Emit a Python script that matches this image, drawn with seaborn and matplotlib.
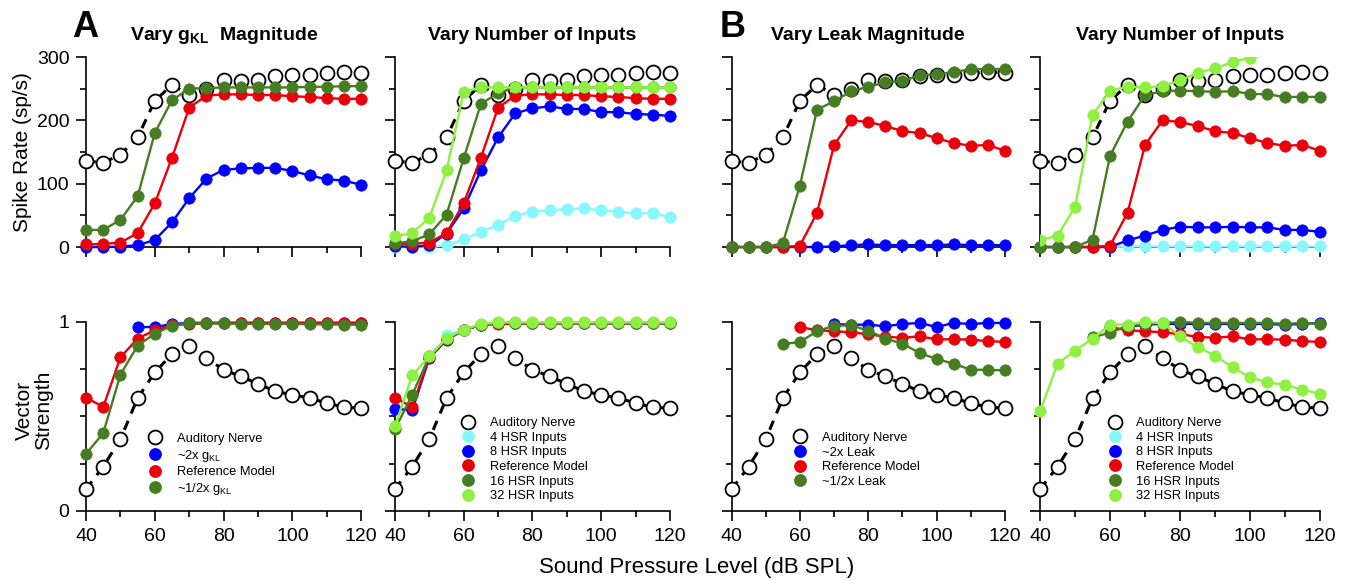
import numpy as np
import matplotlib
matplotlib.use("Agg")
import matplotlib.pyplot as plt
from matplotlib.lines import Line2D
from matplotlib.ticker import MultipleLocator
import seaborn as sns

nan = np.nan

# sound level (dB SPL)
spl = [40, 45, 50, 55, 60, 65, 70, 75, 80, 85, 90, 95, 100, 105, 110, 115, 120]

# auditory nerve (same in every panel)
an_rate = [136, 133, 146, 173, 231, 256, 240, 250, 263, 262, 263, 270, 271, 272, 274, 277, 275]
an_vs = [0.115, 0.235, 0.38, 0.597, 0.733, 0.83, 0.871, 0.809, 0.747, 0.712, 0.673,
         0.633, 0.615, 0.597, 0.571, 0.549, 0.544]

# A: reference model
ref_a_rate = [4, 5, 7, 22, 69, 141, 220, 239, 241, 241, 240, 240, 238, 237, 235, 234, 234]
ref_a_vs = [0.60, 0.55, 0.813, 0.912, 0.956, 0.984, 0.989, 0.992, 0.993, 0.993, 0.993,
            0.993, 0.993, 0.993, 0.993, 0.993, 0.993]

# A: vary gKL
gkl2_rate = [0, 0, 0.5, 3, 11, 39, 77, 108, 122, 124, 125, 125, 120, 113, 107, 105, 98]
gkl2_vs = [nan, nan, nan, 0.973, 0.973, 0.989, 0.995, 0.996, 0.996, 0.996, 0.996,
           0.996, 0.996, 0.996, 0.996, 0.996, 0.996]
gklhalf_rate = [27, 27, 43, 80, 180, 232, 250, 251, 252, 252, 252, 252, 252, 253, 253, 254, 254]
gklhalf_vs = [0.302, 0.412, 0.721, 0.875, 0.938, 0.98, 0.993, 0.993, 0.992, 0.99, 0.99,
              0.99, 0.99, 0.988, 0.987, 0.986, 0.985]

# A: vary number of inputs
hsr4_a_rate = [0, 0, 0, 2.6, 12, 24, 35, 49, 56, 58, 60, 61, 58, 55.5, 53, 54, 47]
hsr4_a_vs = [nan, nan, nan, 0.93, 0.958, 0.985, 0.994, 0.994, 0.994, 0.994, 0.994,
             0.994, 0.994, 0.994, 0.994, 0.994, 0.994]
hsr8_a_rate = [1.5, 0, 2.6, 21, 61, 121, 173, 211, 219, 222, 218, 218, 213, 213, 210, 209, 207]
hsr8_a_vs = [0.541, 0.532, 0.809, 0.906, 0.956, 0.986, 0.993, 0.993, 0.993, 0.993, 0.993,
             0.993, 0.993, 0.993, 0.993, 0.993, 0.993]
hsr16_a_rate = [6, 9, 20, 51, 140, 226, 243, 252, 252, 252, 252, 252, 252, 252, 252, 252, 252]
hsr16_a_vs = [0.433, 0.613, 0.818, 0.912, 0.956, 0.986, 0.995, 0.995, 0.995, 0.995, 0.995,
              0.995, 0.995, 0.995, 0.995, 0.995, 0.995]
hsr32_a_rate = [17, 22, 46, 121, 245, 252, 252, 252, 252, 252, 252, 252, 252, 252, 252, 252, 252]
hsr32_a_vs = [0.447, 0.717, 0.818, 0.915, 0.959, 0.989, 0.998, 0.998, 0.998, 0.998, 0.998,
              0.998, 0.998, 0.998, 0.998, 0.998, 0.998]

# B: reference model
ref_b_rate = [0, 0, 0, 0, 2, 54, 161, 200, 197.5, 191, 183, 180, 172, 164, 160, 161, 152]
ref_b_vs = [nan, nan, nan, nan, 0.973, 0.956, 0.951, 0.945, 0.935, 0.922, 0.916, 0.924,
            0.908, 0.908, 0.907, 0.898, 0.895]

# B: vary leak
leak2_rate = [0, 0, 0, 0, 0, 0, 1, 3, 4, 3, 3, 3, 3, 4, 3, 3, 3]
leak2_vs = [nan, nan, nan, nan, nan, nan, 0.989, 0.985, 0.986, 0.977, 0.989, 0.995,
            0.973, 0.995, 0.989, 0.995, 0.995]
leakhalf_rate = [0, 0, 0, 6, 97, 217, 230, 246, 253, 260, 262, 271, 273, 276, 281, 281, 281]
leakhalf_vs = [nan, nan, nan, 0.883, 0.894, 0.951, 0.98, 0.982, 0.954, 0.912, 0.885, 0.836,
               0.804, 0.779, 0.747, 0.747, 0.744]

# B: vary number of inputs
hsr4_b_rate = [0, 0, 0, 0, 0, 1, 1, 1, 1, 1, 1, 1, 1, 1, 1, 1, 1]
hsr8_b_rate = [0, 0, 0, 0, 0, 10.5, 18, 27, 32, 31, 31, 32, 31, 31, 27, 27, 24]
hsr8_b_vs = [nan, nan, nan, nan, nan, 0.975, 0.985, 0.99, 0.99, 0.99, 0.99, 0.99, 0.99,
             0.99, 0.985, 0.99, 0.995]
hsr16_b_rate = [0, 0, 0, 11.5, 144, 198, 240, 246, 247, 246, 245, 246, 242, 241, 237, 237, 237]
hsr16_b_vs = [nan, nan, nan, 0.92, 0.942, 0.98, 0.989, 0.995, 1.0, 0.995, 0.995, 0.995,
              0.995, 0.995, 0.99, 0.995, 0.99]
hsr32_b_rate = [10.5, 18, 63, 208, 247, 253, 252, 254, 263, 275, 282, 292, 299, 304, nan, nan, nan]
hsr32_b_vs = [0.527, 0.779, 0.848, 0.912, 0.986, 0.986, 1.0, 0.995, 0.924, 0.867, 0.822,
              0.76, 0.707, 0.68, 0.668, 0.641, 0.62]

BLUE = "#0000ff"
RED = "#e8000a"
DGREEN = "#467d23"
LGREEN = "#8ef040"
CYAN = "#88f8ff"

sns.set_style("ticks")
plt.rcParams["font.family"] = ["Liberation Sans", "DejaVu Sans"]
plt.rcParams["mathtext.fontset"] = "custom"
plt.rcParams["mathtext.rm"] = "Liberation Sans"
plt.rcParams["mathtext.bf"] = "Liberation Sans:bold"
for key in ["text.color", "axes.labelcolor", "xtick.color", "ytick.color", "axes.edgecolor"]:
    plt.rcParams[key] = "black"

fig = plt.figure(figsize=(13.53, 5.8), dpi=100)
lefts = [0.0636, 0.2919, 0.5407, 0.7687]
widths = [0.2033, 0.2033, 0.2021, 0.2069]
top_axes = [fig.add_axes([l, 0.5741, w, 0.3276]) for l, w in zip(lefts, widths)]
bot_axes = [fig.add_axes([l, 0.1190, w, 0.3259]) for l, w in zip(lefts, widths)]


def draw_an(ax, y):
    sns.lineplot(x=spl, y=y, ax=ax, color="black", linewidth=2.2,
                 linestyle=(0, (3.2, 2.6)), marker="o", markersize=10,
                 markerfacecolor="white", markeredgecolor="black",
                 markeredgewidth=1.3, clip_on=False, errorbar=None, zorder=3)


def draw_model(ax, y, color, clip=False, markevery=None):
    sns.lineplot(x=spl, y=y, ax=ax, color=color, linewidth=1.7, marker="o",
                 markersize=8.2, markeredgecolor=color, markeredgewidth=0.5,
                 clip_on=clip, markevery=markevery, errorbar=None, zorder=4)


panels = [
    (an_rate, an_vs, [(gkl2_rate, gkl2_vs, BLUE), (ref_a_rate, ref_a_vs, RED),
                      (gklhalf_rate, gklhalf_vs, DGREEN)]),
    (an_rate, an_vs, [(hsr4_a_rate, hsr4_a_vs, CYAN), (hsr8_a_rate, hsr8_a_vs, BLUE),
                      (ref_a_rate, ref_a_vs, RED), (hsr16_a_rate, hsr16_a_vs, DGREEN),
                      (hsr32_a_rate, hsr32_a_vs, LGREEN)]),
    (an_rate, an_vs, [(leak2_rate, leak2_vs, BLUE), (ref_b_rate, ref_b_vs, RED),
                      (leakhalf_rate, leakhalf_vs, DGREEN)]),
    (an_rate, an_vs, [(hsr4_b_rate, None, CYAN), (hsr8_b_rate, hsr8_b_vs, BLUE),
                      (ref_b_rate, ref_b_vs, RED), (hsr16_b_rate, hsr16_b_vs, DGREEN),
                      (hsr32_b_rate, hsr32_b_vs, LGREEN)]),
]

for i, (an_r, an_v, models) in enumerate(panels):
    ta, ba = top_axes[i], bot_axes[i]
    draw_an(ta, an_r)
    draw_an(ba, an_v)
    for rate, vs, color in models:
        if i == 3 and color == LGREEN:
            draw_model(ta, rate, color, clip=True, markevery=list(range(13)))
        else:
            draw_model(ta, rate, color)
        if vs is not None:
            draw_model(ba, vs, color)

titles = [r"Vary g$_\mathbf{KL}$  Magnitude", "Vary Number of Inputs",
          "Vary Leak Magnitude", "Vary Number of Inputs"]

for ax in top_axes + bot_axes:
    top = ax in top_axes
    ax.set_xlim(40, 120)
    ax.xaxis.set_major_locator(MultipleLocator(20))
    ax.xaxis.set_minor_locator(MultipleLocator(10))
    if top:
        ax.set_ylim(0, 300)
        ax.yaxis.set_major_locator(MultipleLocator(100))
        ax.yaxis.set_minor_locator(MultipleLocator(50))
        ax.tick_params(axis="x", labelbottom=False)
    else:
        ax.set_ylim(0, 1)
        ax.set_yticks([0, 1])
        ax.yaxis.set_minor_locator(MultipleLocator(0.25))
    if ax not in (top_axes[0], bot_axes[0]):
        ax.tick_params(axis="y", labelleft=False)
    for s in ["top", "right"]:
        ax.spines[s].set_visible(False)
    for s in ["left", "bottom"]:
        ax.spines[s].set_linewidth(1.2)
        ax.spines[s].set_color("black")
    ax.tick_params(which="major", direction="out", length=7, width=1.2,
                   labelsize=14, pad=5, color="black", labelcolor="black")
    ax.tick_params(which="minor", direction="out", length=4.5, width=1.2, color="black")
    ax.set_xlabel("")
    ax.set_ylabel("")

for ax, t in zip(top_axes, titles):
    ax.set_title(t, fontsize=14, fontweight="bold", pad=12, color="black")

# legends
an_handle = Line2D([], [], linestyle="none", marker="o", markersize=10,
                   markerfacecolor="white", markeredgecolor="black", markeredgewidth=1.3)


def dot(color):
    return Line2D([], [], linestyle="none", marker="o", markersize=8.2,
                  markerfacecolor=color, markeredgecolor=color)


legends = [
    ([an_handle, dot(BLUE), dot(RED), dot(DGREEN)],
     ["Auditory Nerve", r"~2x g$_\mathregular{KL}$", "Reference Model",
      r"~1/2x g$_\mathregular{KL}$"], (0.229, 0.413)),
    ([an_handle, dot(CYAN), dot(BLUE), dot(RED), dot(DGREEN), dot(LGREEN)],
     ["Auditory Nerve", "4 HSR Inputs", "8 HSR Inputs", "Reference Model",
      "16 HSR Inputs", "32 HSR Inputs"], (0.243, 0.497)),
    ([an_handle, dot(BLUE), dot(RED), dot(DGREEN)],
     ["Auditory Nerve", "~2x Leak", "Reference Model", "~1/2x Leak"], (0.228, 0.418)),
    ([an_handle, dot(CYAN), dot(BLUE), dot(RED), dot(DGREEN), dot(LGREEN)],
     ["Auditory Nerve", "4 HSR Inputs", "8 HSR Inputs", "Reference Model",
      "16 HSR Inputs", "32 HSR Inputs"], (0.243, 0.497)),
]
for ax, (handles, labels, anchor) in zip(bot_axes, legends):
    ax.legend(handles, labels, loc="upper left", bbox_to_anchor=anchor,
              frameon=False, fontsize=9.3, handlelength=1.0, handletextpad=1.2,
              labelspacing=0.2, borderpad=0, borderaxespad=0, labelcolor="black")

fig.text(0.0163, 0.738, "Spike Rate (sp/s)", rotation=90, ha="center", va="center",
         fontsize=15)
fig.text(0.025, 0.293, "Vector\nStrength", rotation=90, ha="center", va="center",
         fontsize=15, multialignment="center", linespacing=1.0)
fig.text(0.515, 0.022, "Sound Pressure Level (dB SPL)", ha="center", va="center",
         fontsize=16)
fig.text(0.053, 0.952, "A", fontsize=26, fontweight="bold", ha="left", va="center")
fig.text(0.532, 0.952, "B", fontsize=26, fontweight="bold", ha="left", va="center")

fig.savefig("out.png", dpi=100)
